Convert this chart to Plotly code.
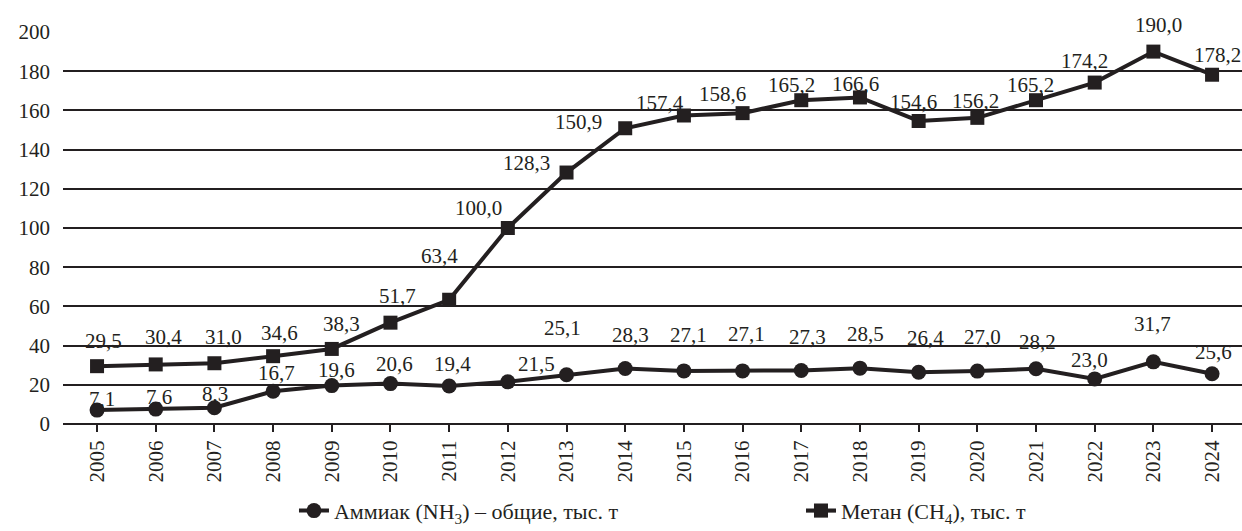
import plotly.graph_objects as go

years = list(range(2005, 2025))
ammonia = [7.1, 7.6, 8.3, 16.7, 19.6, 20.6, 19.4, 21.5, 25.1, 28.3,
           27.1, 27.1, 27.3, 28.5, 26.4, 27.0, 28.2, 23.0, 31.7, 25.6]
methane = [29.5, 30.4, 31.0, 34.6, 38.3, 51.7, 63.4, 100.0, 128.3, 150.9,
           157.4, 158.6, 165.2, 166.6, 154.6, 156.2, 165.2, 174.2, 190.0, 178.2]
y_ticks = [0, 20, 40, 60, 80, 100, 120, 140, 160, 180, 200]

# value label offsets in pixels (dx, dy) from each marker
ammonia_off = [(5, 11), (3, 12), (1, 14), (3, 18), (5, 16), (4, 20), (3, 22), (29, 18),
               (-4, 47), (5, 34), (5, 36), (4, 37), (6, 33), (6, 34), (7, 34), (5, 34),
               (1, 27), (-5, 19), (-1, 38), (1, 22)]
methane_off = [(6, 25), (8, 27), (9, 26), (6, 23), (10, 25), (7, 27), (-10, 44), (-29, 20),
               (-40, 10), (-47, 6), (-24, 13), (-20, 19), (-10, 15), (-4, 13), (-5, 19), (-2, 17),
               (-6, 15), (-10, 22), (5, 27), (5, 20)]

FONT = "Liberation Serif"
INK = "#231f20"

def fmt(v):
    return f"{v:.1f}".replace(".", ",")

fig = go.Figure()
fig.add_trace(go.Scatter(
    x=years, y=ammonia, mode="lines+markers",
    name="Аммиак (NH<sub>3</sub>) – общие, тыс. т",
    line=dict(color=INK, width=4),
    marker=dict(symbol="circle", size=15, color=INK),
    cliponaxis=False,
))
fig.add_trace(go.Scatter(
    x=years, y=methane, mode="lines+markers",
    name="Метан (CH<sub>4</sub>), тыс. т",
    line=dict(color=INK, width=4),
    marker=dict(symbol="square", size=14, color=INK),
    cliponaxis=False,
))

annotations = []
for vals, offs in ((ammonia, ammonia_off), (methane, methane_off)):
    for yr, v, (dx, dy) in zip(years, vals, offs):
        annotations.append(dict(
            x=yr, y=v, text=fmt(v), showarrow=False,
            xshift=dx, yshift=dy, xanchor="center", yanchor="middle",
            font=dict(family=FONT, size=21, color=INK),
        ))

fig.update_layout(
    width=1242, height=531,
    margin=dict(l=63, r=0, t=32, b=107, autoexpand=False),
    paper_bgcolor="white", plot_bgcolor="white",
    font=dict(family=FONT, size=20, color=INK),
    annotations=annotations,
    showlegend=True,
    legend=dict(
        orientation="h", xref="container", yref="container",
        x=0.2367, xanchor="left", y=0.038, yanchor="middle",
        font=dict(family=FONT, size=22, color=INK),
        entrywidth=462, entrywidthmode="pixels",
        bgcolor="rgba(0,0,0,0)",
    ),
)
fig.update_xaxes(
    range=[2004.42, 2024.51], tickmode="array", tickvals=years,
    ticktext=[str(y) for y in years], tickangle=-90, automargin=False,
    showgrid=False, zeroline=False, showline=False,
    ticks="outside", ticklen=7, tickwidth=2, tickcolor=INK,
    tickfont=dict(family=FONT, size=21, color=INK),
)
fig.update_yaxes(
    range=[0, 200], tickmode="array", tickvals=y_ticks, automargin=False,
    showgrid=True, gridcolor=INK, gridwidth=2,
    zeroline=True, zerolinecolor=INK, zerolinewidth=2,
    showline=False, ticks="", ticklabelstandoff=12,
    tickfont=dict(family=FONT, size=21, color=INK),
)

fig.write_html("out.html")
